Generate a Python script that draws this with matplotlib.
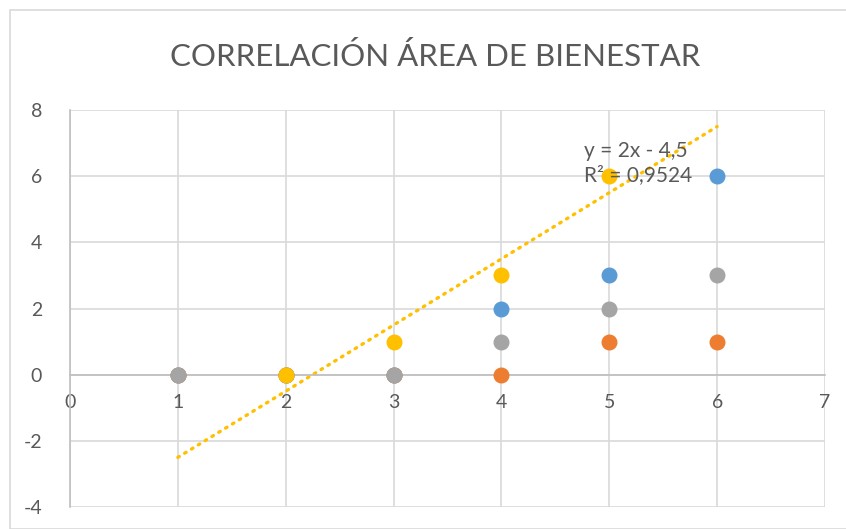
import numpy as np
import matplotlib.pyplot as plt
from matplotlib.patches import Rectangle

OUTPUT_PLOT = "out.png"

# Series values (x shared by all series; NaN = empty cell)
x_vals = [1, 2, 3, 4, 5, 6]
serie_azul = [0, 0, 0, 2, 3, 6]
serie_naranja = [0, 0, 0, 0, 1, 1]
serie_gris = [0, 0, 0, 1, 2, 3]
serie_amarilla = [np.nan, 0, 1, 3, 6, np.nan]

# Linear trendline of the yellow series
trend_slope = 2.0
trend_intercept = -4.5
trend_r2 = 0.9524

x_ticks = [0, 1, 2, 3, 4, 5, 6, 7]
y_ticks = [-4, -2, 0, 2, 4, 6, 8]

TITLE = "CORRELACIÓN ÁREA DE BIENESTAR"
TEXT_COLOR = "#595959"
GRID_COLOR = "#d9d9d9"
AXIS_COLOR = "#bfbfbf"
COLORS = ["#5B9BD5", "#ED7D31", "#A5A5A5", "#FFC000"]

plt.rcParams["font.family"] = ["Lato", "DejaVu Sans"]
plt.rcParams["axes.unicode_minus"] = False


def plot_chart():
    fig = plt.figure(figsize=(8.46, 5.29), dpi=100)
    fig.patch.set_facecolor("white")

    # chart border
    fig.add_artist(Rectangle((10 / 846, 0), 1.0, 1 - 10 / 529,
                             transform=fig.transFigure, fill=False,
                             edgecolor=GRID_COLOR, linewidth=1.2))

    ax = fig.add_axes([70 / 846, 1 - 507 / 529, 755 / 846, 397 / 529])

    ax.set_xlim(0, 7)
    ax.set_ylim(-4, 8)
    ax.set_xticks(x_ticks)
    ax.set_yticks(y_ticks)
    ax.grid(True, color=GRID_COLOR, linewidth=1.2)
    ax.set_axisbelow(True)

    for side in ["top", "right"]:
        ax.spines[side].set_visible(False)
    ax.spines["bottom"].set_position(("data", 0))
    ax.spines["bottom"].set_color(AXIS_COLOR)
    ax.spines["left"].set_color(AXIS_COLOR)
    ax.spines["bottom"].set_linewidth(1.2)
    ax.spines["left"].set_linewidth(1.2)
    ax.tick_params(axis="both", length=0, labelsize=14, colors=TEXT_COLOR)
    ax.tick_params(axis="x", pad=14)
    ax.tick_params(axis="y", pad=20)

    for ys, c in zip([serie_azul, serie_naranja, serie_gris, serie_amarilla], COLORS):
        ax.plot(x_vals, ys, linestyle="none", marker="o", markersize=10.5,
                color=c, markeredgecolor=c, zorder=3, clip_on=False)

    # dotted trendline over the full x range
    xt = np.array([x_vals[0], x_vals[-1]], dtype=float)
    ax.plot(xt, trend_slope * xt + trend_intercept, color=COLORS[3],
            linewidth=2.4, linestyle=(0, (0.5, 1.9)), dash_capstyle="round",
            zorder=2)

    eq = "y = %gx - %s\nR² = %s" % (trend_slope, str(-trend_intercept).replace(".", ","),
                                    str(trend_r2).replace(".", ","))
    ax.text(4.77, 6.4, eq, fontsize=15, color=TEXT_COLOR, ha="left",
            va="center", linespacing=1.25, zorder=4)

    fig.text(435 / 846, 1 - 56 / 529, TITLE, fontsize=22.5, color=TEXT_COLOR,
             ha="center", va="center")

    fig.savefig(OUTPUT_PLOT, dpi=100)


if __name__ == "__main__":
    plot_chart()
